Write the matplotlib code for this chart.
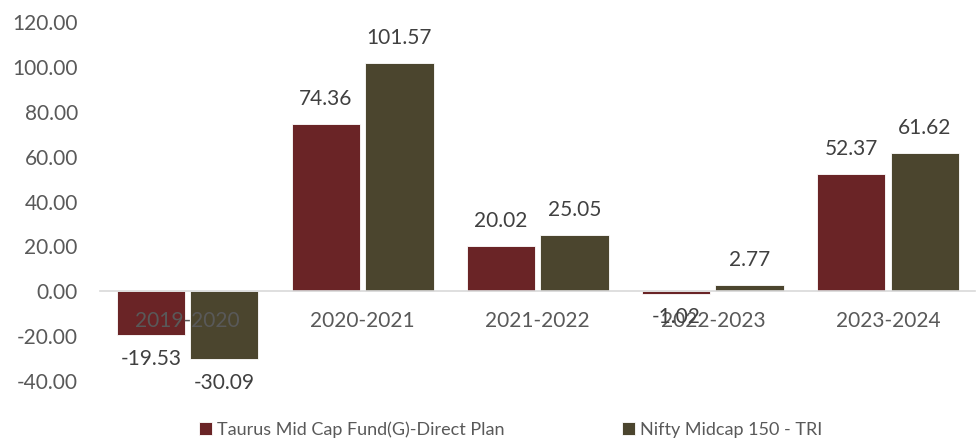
import numpy as np
import matplotlib.pyplot as plt

# data
years = ['2019-2020', '2020-2021', '2021-2022', '2022-2023', '2023-2024']
taurus = [-19.53, 74.36, 20.02, -1.02, 52.37]
nifty = [-30.09, 101.57, 25.05, 2.77, 61.62]
series_names = ['Taurus Mid Cap Fund(G)-Direct Plan', 'Nifty Midcap 150 - TRI']
yticks = [-40, -20, 0, 20, 40, 60, 80, 100, 120]

plt.rcParams['font.family'] = ['Lato', 'DejaVu Sans']

fig = plt.figure(figsize=(9.77, 4.41), dpi=100)
ax = fig.add_axes([0.1024, 0.136, 0.896, 0.814])

# zero axis first, it resets the ticks
for s in ['left', 'right', 'top']:
    ax.spines[s].set_visible(False)
ax.spines['bottom'].set_position(('data', 0))
ax.spines['bottom'].set_color('#D9D9D9')
ax.spines['bottom'].set_linewidth(1.2)

x = np.arange(len(years))
w = 0.39
gap = 0.015
b1 = ax.bar(x - w/2 - gap, taurus, w, color='#6A2426', edgecolor='white', linewidth=0.6, label=series_names[0])
b2 = ax.bar(x + w/2 + gap, nifty, w, color='#4B452E', edgecolor='white', linewidth=0.6, label=series_names[1])

for bars in (b1, b2):
    for r in bars:
        v = r.get_height()
        xc = r.get_x() + r.get_width()/2
        if v >= 0:
            ax.annotate('%.2f' % v, (xc, v), xytext=(0, 11), textcoords='offset points',
                        ha='center', va='bottom', fontsize=15, color='#404040')
        else:
            ax.annotate('%.2f' % v, (xc, v), xytext=(0, -10), textcoords='offset points',
                        ha='center', va='top', fontsize=15, color='#404040')

ax.set_xlim(-0.5, len(years) - 0.5)
ax.set_ylim(-40, 120)
ax.set_yticks(yticks)
ax.set_yticklabels(['%.2f' % t for t in yticks], fontsize=15, color='#595959')
ax.set_xticks(x)
ax.set_xticklabels(years, fontsize=15, color='#595959')

ax.tick_params(axis='both', length=0)
ax.tick_params(axis='x', pad=14)
ax.tick_params(axis='y', pad=16)

fig.legend(loc='lower center', bbox_to_anchor=(0.523, -0.03), ncol=2, frameon=False,
           fontsize=13, handlelength=0.7, handleheight=0.7, handletextpad=0.3,
           columnspacing=6.5, labelcolor='#595959')

fig.savefig('out.png', dpi=100)
